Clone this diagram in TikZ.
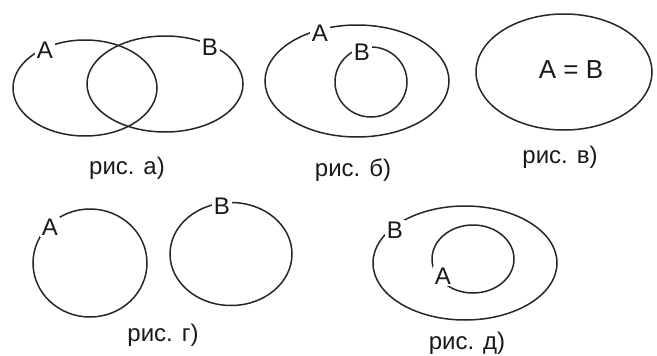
\documentclass[tikz,border=0pt]{standalone}
\usepackage{fontspec}
\setmainfont{Liberation Sans}
\usetikzlibrary{shapes.geometric}
\begin{document}
\begin{tikzpicture}[x=1pt,y=-1pt,
  setline/.style={draw=black!85, line width=1.5pt, ellipse, inner sep=0pt},
  lbl/.style={fill=white, inner sep=2pt, font=\fontsize{24}{28}\selectfont, text=black!90},
  captext/.style={inner sep=0pt, font=\fontsize{24}{28}\selectfont, text=black!90}]
\useasboundingbox (0,0) rectangle (657,356);
% рис. а)
\node[setline, minimum width=144pt, minimum height=96pt] (aA) at (85,88) {};
\node[setline, minimum width=156pt, minimum height=96pt] (aB) at (165,84) {};
\node[lbl] (aAl) at (45,50) {A};
\node[lbl] (aBl) at (210,47) {B};
\node[captext] (aC) at (127,168) {рис. а)};
% рис. б)
\node[setline, minimum width=184pt, minimum height=112pt] (bA) at (357,81) {};
\node[setline, minimum width=72pt, minimum height=70pt] (bB) at (371,82) {};
\node[lbl] (bAl) at (320,33) {A};
\node[lbl] (bBl) at (362,52) {B};
\node[captext] (bC) at (353,170) {рис. б)};
% рис. в)
\node[setline, minimum width=176pt, minimum height=116pt] (cA) at (564,72) {};
\node[captext, font=\fontsize{26}{30}\selectfont] (cL) at (571,70) {A = B};
\node[captext] (cC) at (560,157) {рис. в)};
% рис. г)
\node[setline, minimum width=114pt, minimum height=108pt] (dA) at (90,263) {};
\node[setline, minimum width=122pt, minimum height=103pt] (dB) at (231,254) {};
\node[lbl] (dAl) at (50,227) {A};
\node[lbl] (dBl) at (222,206) {B};
\node[captext] (dC) at (163,335) {рис. г)};
% рис. д)
\node[setline, minimum width=184pt, minimum height=114pt] (eB) at (465,263) {};
\node[setline, minimum width=82pt, minimum height=68pt] (eA) at (473,259) {};
\node[lbl] (eBl) at (395,230) {B};
\node[lbl] (eAl) at (443,276) {A};
\node[captext] (eC) at (467,343) {рис. д)};
\end{tikzpicture}
\end{document}
